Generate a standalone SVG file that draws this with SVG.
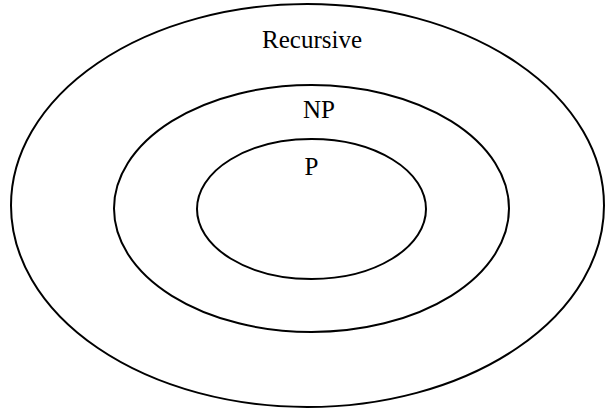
<svg xmlns="http://www.w3.org/2000/svg" width="605" height="409" viewBox="0 0 605 409">
<style>
.set{fill:none;stroke:#000;stroke-width:2}
.lbl{font-family:"Liberation Serif","Times New Roman",serif;font-size:25px;fill:#000;text-anchor:middle}
</style>
<rect width="605" height="409" fill="#fff"/>
<g id="recursive">
<ellipse class="set" cx="307.5" cy="205.5" rx="296.5" ry="201.5"/>
<text class="lbl" x="312" y="48">Recursive</text>
</g>
<g id="np">
<ellipse class="set" cx="311.5" cy="208.5" rx="197.5" ry="123.5"/>
<text class="lbl" x="319" y="118">NP</text>
</g>
<g id="p">
<ellipse class="set" cx="311.5" cy="209" rx="114.5" ry="70"/>
<text class="lbl" x="311.5" y="175">P</text>
</g>
<g id="connectors"/>
</svg>
